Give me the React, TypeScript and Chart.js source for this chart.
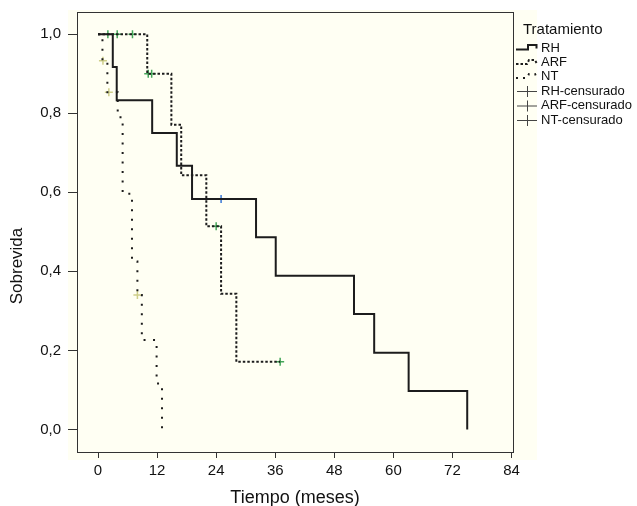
import React, { useEffect, useRef } from "react";
import { Chart, registerables } from "chart.js";

Chart.register(...registerables);

// Kaplan-Meier curves (time in months, survival)
const rhTime = [0, 3, 3.8, 11, 16, 19.1, 32.1, 36.1, 52, 56.1, 63.1, 75];
const rhSurv = [1, 0.917, 0.833, 0.75, 0.667, 0.583, 0.486, 0.389, 0.292, 0.194, 0.097, 0];
const arfTime = [0, 10, 14.9, 16.9, 22, 25, 28.1, 37];
const arfSurv = [1, 0.9, 0.771, 0.643, 0.514, 0.343, 0.171, 0.171];
const ntTime = [0, 0.9, 1.9, 4.0, 5.0, 6.9, 8.0, 8.9, 11.9, 13.0];
const ntSurv = [1, 0.933, 0.853, 0.79, 0.596, 0.425, 0.34, 0.226, 0.116, 0];

// Censored observations
const rhCensTime = [25];
const rhCensSurv = [0.583];
const arfCensTime = [2, 3.9, 7, 10.2, 10.9, 24, 37];
const arfCensSurv = [1, 1, 1, 0.9, 0.9, 0.514, 0.171];
const ntCensTime = [1.0, 2.2, 8.0];
const ntCensSurv = [0.933, 0.853, 0.34];

const xTicks = [0, 12, 24, 36, 48, 60, 72, 84];
const yTicks = [0, 0.2, 0.4, 0.6, 0.8, 1.0];
const yTickLabels = ["0,0", "0,2", "0,4", "0,6", "0,8", "1,0"];

const xTitle = "Tiempo (meses)";
const yTitle = "Sobrevida";
const legendTitle = "Tratamiento";
const legendLabels = ["RH", "ARF", "NT", "RH-censurado", "ARF-censurado", "NT-censurado"];

const FONT = "'Liberation Sans', Arial, Helvetica, sans-serif";
const LINE = "#1c1c1c";

const pts = (t: number[], s: number[]) => t.map((x, i) => ({ x, y: s[i] }));

const bgPlugin = {
  id: "bgPlugin",
  beforeDraw(chart: any) {
    const { ctx, chartArea } = chart;
    ctx.save();
    ctx.fillStyle = "#ffffff";
    ctx.fillRect(0, 0, chart.width, chart.height);
    ctx.fillStyle = "#fffff3";
    ctx.fillRect(chartArea.left - 9, chartArea.top - 2, chartArea.right - chartArea.left + 33, chartArea.bottom - chartArea.top + 10);
    ctx.restore();
  },
  afterDatasetsDraw(chart: any) {
    const { ctx, chartArea } = chart;
    ctx.save();
    ctx.strokeStyle = "#333";
    ctx.lineWidth = 1;
    ctx.strokeRect(Math.round(chartArea.left) + 0.5, Math.round(chartArea.top) + 0.5,
      Math.round(chartArea.right - chartArea.left), Math.round(chartArea.bottom - chartArea.top));
    ctx.restore();
  },
  afterDraw(chart: any) {
    const { ctx, chartArea } = chart;
    ctx.save();
    // y axis title
    ctx.fillStyle = "#111";
    ctx.font = `17px ${FONT}`;
    ctx.textAlign = "center";
    ctx.textBaseline = "middle";
    ctx.translate(17, 266);
    ctx.rotate(-Math.PI / 2);
    ctx.fillText(yTitle, 0, 0);
    ctx.restore();

    const x0 = chartArea.right + 4;
    ctx.save();
    ctx.fillStyle = "#111";
    ctx.textBaseline = "middle";
    ctx.font = `15px ${FONT}`;
    ctx.fillText(legendTitle, x0 + 6, 30);
    ctx.font = `13px ${FONT}`;
    const ys = [48, 62.5, 76.5, 91, 105.5, 120];
    legendLabels.forEach((lab, i) => {
      const y = ys[i];
      ctx.fillStyle = "#111";
      ctx.fillText(lab, x0 + 24, y);
      ctx.strokeStyle = LINE;
      ctx.lineWidth = 2;
      ctx.beginPath();
      if (i === 0) {
        ctx.setLineDash([]);
        ctx.moveTo(x0 - 1, y + 1.5); ctx.lineTo(x0 + 11, y + 1.5); ctx.lineTo(x0 + 11, y - 3);
        ctx.lineTo(x0 + 19.5, y - 3); ctx.lineTo(x0 + 19.5, y + 0.5);
      } else if (i === 1) {
        ctx.setLineDash([2.5, 2]);
        ctx.moveTo(x0 - 1, y + 1.5); ctx.lineTo(x0 + 10, y + 1.5); ctx.lineTo(x0 + 12, y - 2.5);
        ctx.lineTo(x0 + 18, y - 2.5); ctx.lineTo(x0 + 19.5, y + 0.5);
      } else if (i === 2) {
        ctx.setLineDash([2, 5]);
        ctx.moveTo(x0 - 1, y + 1.5); ctx.lineTo(x0 + 10, y + 1.5); ctx.lineTo(x0 + 12, y - 2.5);
        ctx.lineTo(x0 + 18, y - 2.5); ctx.lineTo(x0 + 19.5, y + 0.5);
      } else {
        ctx.setLineDash([]);
        ctx.lineWidth = 1;
        ctx.strokeStyle = "#444";
        ctx.moveTo(x0, y + 0.5); ctx.lineTo(x0 + 20, y + 0.5);
        ctx.moveTo(x0 + 10.5, y - 5); ctx.lineTo(x0 + 10.5, y + 6);
      }
      ctx.stroke();
    });
    ctx.restore();
  },
};

export default function App() {
  const ref = useRef<HTMLCanvasElement | null>(null);
  useEffect(() => {
    if (!ref.current) return;
    const lineDs = (label: string, t: number[], s: number[], dash: number[]) => ({
      type: "line" as const,
      label,
      data: pts(t, s),
      borderColor: LINE,
      borderWidth: 2,
      borderDash: dash,
      borderCapStyle: "butt" as const,
      stepped: "before" as const,
      pointRadius: 0,
      fill: false,
      showLine: true,
    });
    const censDs = (label: string, t: number[], s: number[], color: string) => ({
      type: "scatter" as const,
      label,
      data: pts(t, s),
      pointStyle: "cross" as const,
      pointRadius: 4,
      borderColor: color,
      backgroundColor: color,
      pointBorderWidth: 1.5,
      showLine: false,
    });
    const chart = new Chart(ref.current, {
      type: "scatter",
      data: {
        datasets: [
          lineDs("RH", rhTime, rhSurv, []),
          lineDs("ARF", arfTime, arfSurv, [2.5, 2]),
          lineDs("NT", ntTime, ntSurv, [2, 7.5]),
          censDs("RH-censurado", rhCensTime, rhCensSurv, "#3a78d6"),
          censDs("ARF-censurado", arfCensTime, arfCensSurv, "#45a85a"),
          censDs("NT-censurado", ntCensTime, ntCensSurv, "#cfcf8a"),
        ] as any,
      },
      options: {
        animation: false,
        responsive: false,
        devicePixelRatio: 1,
        layout: { padding: { left: 0, top: 12, right: 124, bottom: 0 } },
        plugins: { legend: { display: false }, tooltip: { enabled: false } },
        scales: {
          x: {
            type: "linear",
            min: -4.27,
            max: 84.3,
            afterBuildTicks: (s: any) => { s.ticks = xTicks.map((v) => ({ value: v })); },
            afterFit: (s: any) => { s.height = 54; s.paddingLeft = 0; s.paddingRight = 0; },
            grid: { drawOnChartArea: false, tickLength: 6, color: "#333" },
            border: { display: true, color: "#333" },
            ticks: { color: "#111", font: { family: FONT, size: 15 }, padding: 4, maxRotation: 0 },
            title: { display: true, text: xTitle, color: "#111", font: { family: FONT, size: 18, lineHeight: 0.9 }, padding: { top: 0, bottom: 0 } },
          },
          y: {
            type: "linear",
            min: -0.057,
            max: 1.056,
            afterBuildTicks: (s: any) => { s.ticks = yTicks.map((v) => ({ value: v })); },
            afterFit: (s: any) => { s.width = 77; s.paddingTop = 0; s.paddingBottom = 0; },
            grid: { drawOnChartArea: false, tickLength: 9, color: "#333" },
            border: { display: true, color: "#333" },
            ticks: {
              color: "#111",
              font: { family: FONT, size: 15 },
              padding: 7,
              callback: (v: any) => {
                const i = yTicks.findIndex((t) => Math.abs(t - Number(v)) < 1e-6);
                return i >= 0 ? yTickLabels[i] : "";
              },
            },
            title: { display: false },
          },
        },
      },
      plugins: [bgPlugin],
    });
    return () => chart.destroy();
  }, []);
  return (
    <div style={{ position: "absolute", left: 0, top: 0, width: 637, height: 506 }}>
      <canvas ref={ref} width={637} height={506} style={{ display: "block" }} />
    </div>
  );
}
